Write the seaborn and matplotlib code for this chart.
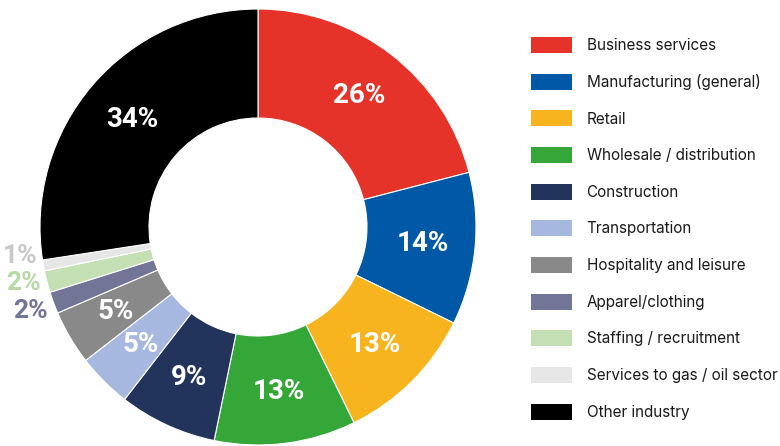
import matplotlib
matplotlib.use("Agg")
import matplotlib.pyplot as plt
from matplotlib.patches import Patch
import numpy as np
import seaborn as sns

sns.set_theme(style="white")
plt.rcParams["font.family"] = ["Inter", "DejaVu Sans"]

industries = [
    "Business services",
    "Manufacturing (general)",
    "Retail",
    "Wholesale / distribution",
    "Construction",
    "Transportation",
    "Hospitality and leisure",
    "Apparel/clothing",
    "Staffing / recruitment",
    "Services to gas / oil sector",
    "Other industry",
]
shares = [26, 14, 13, 13, 9, 5, 5, 2, 2, 1, 34]
colors = [
    "#E5332A", "#0058A7", "#F7B41F", "#35A638", "#22335C", "#A7B8E0",
    "#898989", "#737597", "#C3DFB3", "#E6E6E6", "#000000",
]
# darker tints used for the small-share labels printed outside the ring
outside_colors = {7: "#737597", 8: "#B6D9A6", 9: "#C8C8C8"}
label_font = ["Roboto", "DejaVu Sans"]

W, H = 780, 446
fig = plt.figure(figsize=(W / 100, H / 100), dpi=100)

cx, cy, R = 258, 227, 218
half = 262
ax = fig.add_axes([(cx - half) / W, (H - cy - half) / H, 2 * half / W, 2 * half / H])

wedges, _ = ax.pie(
    shares,
    colors=colors,
    startangle=90,
    counterclock=False,
    radius=1.0,
    wedgeprops=dict(width=0.5, edgecolor="white", linewidth=0.8),
)
lim = half / R
ax.set_xlim(-lim, lim)
ax.set_ylim(-lim, lim)
ax.set_aspect("equal")
ax.axis("off")

# labels inside the ring for the larger shares
small = []
for i, (w, v) in enumerate(zip(wedges, shares)):
    ang = np.deg2rad((w.theta1 + w.theta2) / 2)
    if v <= 2:
        small.append((i, v, ang))
        continue
    r = 0.76
    ax.text(r * np.cos(ang), r * np.sin(ang), f"{v}%", ha="center", va="center",
            color="white", fontsize=20, fontweight="bold", family=label_font)

# small shares: outside the ring, spread vertically so they do not collide
gap = 0.125
pos = [(i, v, 1.03 * np.cos(a), np.sin(a)) for i, v, a in small]
pos.sort(key=lambda p: p[3])
ys = [p[3] for p in pos]
for k in range(1, len(ys)):
    ys[k] = max(ys[k], ys[k - 1] + gap)
shift = (np.mean([p[3] for p in pos]) - np.mean(ys))
ys = [y + shift for y in ys]
for (i, v, x, _), y in zip(pos, ys):
    ax.text(x, y, f"{v}%", ha="right" if x < 0 else "left", va="center",
            color=outside_colors[i], fontsize=19, fontweight="bold", family=label_font)

handles = [Patch(facecolor=c, edgecolor="none") for c in colors]
fs = 11
fpx = fs * 100 / 72
leg = fig.legend(
    handles, industries,
    loc="upper left",
    bbox_to_anchor=(531 / W, 1 - 37 / H),
    frameon=False,
    fontsize=fs,
    handlelength=41 / fpx,
    handleheight=19 / fpx,
    labelspacing=1.34,
    handletextpad=0.95,
    borderaxespad=0,
    borderpad=0,
)
for t in leg.get_texts():
    t.set_color("#1a1a1a")

fig.savefig("out.png", dpi=100)
